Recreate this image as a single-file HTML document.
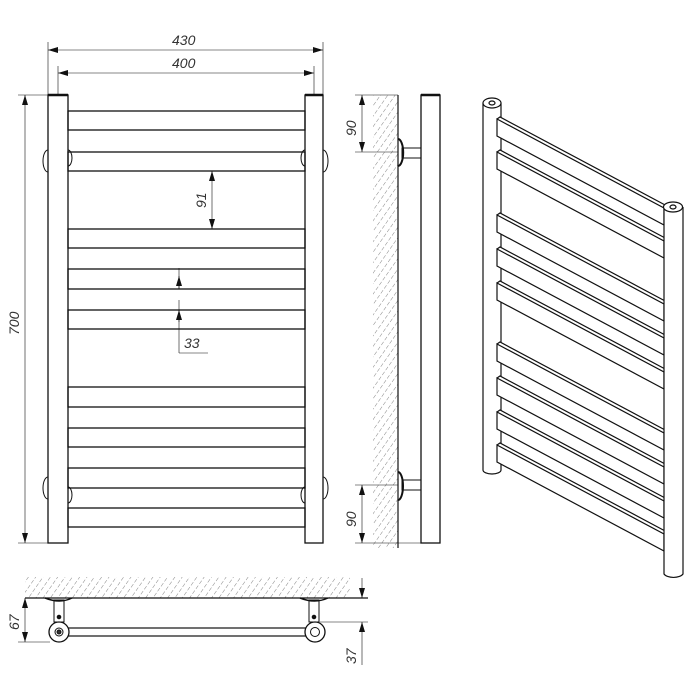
<!DOCTYPE html>
<html><head><meta charset="utf-8"><style>
html,body{margin:0;padding:0;background:#fff}
svg{display:block}
text{font-family:"Liberation Sans",sans-serif;font-style:italic;font-size:14px;fill:#333}
</style></head><body>
<svg width="700" height="700" viewBox="0 0 700 700" xmlns="http://www.w3.org/2000/svg">
<defs>
<pattern id="h" width="6" height="6" patternUnits="userSpaceOnUse" patternTransform="rotate(35)">
<line x1="0" y1="0" x2="0" y2="6" stroke="#777" stroke-width="0.9" stroke-dasharray="4 2"/>
</pattern>
<marker id="a" viewBox="0 0 10 6" refX="10" refY="3" markerWidth="10" markerHeight="6" orient="auto-start-reverse" markerUnits="userSpaceOnUse"><path d="M0,0 L10,3 L0,6z" fill="#111"/></marker>
</defs>
<g stroke="#111" fill="none" stroke-width="1">
<line x1="48" y1="42" x2="48" y2="95" stroke-width="0.6"/>
<line x1="323" y1="42" x2="323" y2="95" stroke-width="0.6"/>
<line x1="48" y1="50" x2="323" y2="50" stroke-width="0.6" marker-start="url(#a)" marker-end="url(#a)"/>
<line x1="58" y1="66" x2="58" y2="95" stroke-width="0.6"/>
<line x1="314" y1="66" x2="314" y2="95" stroke-width="0.6"/>
<line x1="58" y1="73" x2="314" y2="73" stroke-width="0.6" marker-start="url(#a)" marker-end="url(#a)"/>
<line x1="18" y1="95" x2="48" y2="95" stroke-width="0.6"/>
<line x1="18" y1="543" x2="48" y2="543" stroke-width="0.6"/>
<line x1="25" y1="95" x2="25" y2="543" stroke-width="0.6" marker-start="url(#a)" marker-end="url(#a)"/>
<rect x="48" y="95" width="20" height="448" stroke-width="1.3"/>
<rect x="305" y="95" width="18" height="448" stroke-width="1.3"/>
<line x1="48" y1="95" x2="68" y2="95" stroke-width="2.5"/>
<line x1="305" y1="95" x2="323" y2="95" stroke-width="2.5"/>
<path d="M48,150 A5,11 0 0 0 48,172"/><path d="M323,150 A5,11 0 0 1 323,172"/>
<path d="M48,477 A5,11 0 0 0 48,499"/><path d="M323,477 A5,11 0 0 1 323,499"/>
<path d="M68,150 A4,8 0 0 1 68,166"/><path d="M305,150 A4,8 0 0 0 305,166"/>
<path d="M68,487 A4,8 0 0 1 68,503"/><path d="M305,487 A4,8 0 0 0 305,503"/>
<g stroke-width="1.3">
<rect x="68" y="111" width="237" height="19"/>
<rect x="68" y="152" width="237" height="19"/>
<rect x="68" y="229" width="237" height="19"/>
<rect x="68" y="269" width="237" height="20"/>
<rect x="68" y="310" width="237" height="19"/>
<rect x="68" y="387" width="237" height="20"/>
<rect x="68" y="428" width="237" height="19"/>
<rect x="68" y="468" width="237" height="20"/>
<rect x="68" y="508" width="237" height="19"/>
</g>
<line x1="212" y1="171" x2="212" y2="229" stroke-width="0.6" marker-start="url(#a)" marker-end="url(#a)"/>
<line x1="179" y1="268" x2="179" y2="289" stroke-width="0.6"/>
<line x1="179" y1="276" x2="179" y2="289" stroke-width="0.6" marker-start="url(#a)"/>
<line x1="179" y1="300" x2="179" y2="353" stroke-width="0.6"/>
<line x1="179" y1="322" x2="179" y2="310" stroke-width="0.6" marker-end="url(#a)"/>
<line x1="179" y1="353" x2="208" y2="353" stroke-width="0.6"/>
<rect x="373" y="95" width="25" height="453" fill="url(#h)" stroke="none"/>
<line x1="398" y1="95" x2="398" y2="548" stroke-width="1.2"/>
<rect x="421" y="95" width="19" height="448" stroke-width="1.3"/>
<line x1="421" y1="95" x2="440" y2="95" stroke-width="2.5"/>
<path d="M398,139 A5,13 0 0 1 398,166" stroke-width="2"/>
<rect x="402" y="148" width="19" height="10"/>
<path d="M398,472 A5,14 0 0 1 398,500" stroke-width="2"/>
<rect x="402" y="480" width="19" height="10"/>
<line x1="355" y1="95" x2="398" y2="95" stroke-width="0.6"/>
<line x1="355" y1="152" x2="398" y2="152" stroke-width="0.6"/>
<line x1="362" y1="95" x2="362" y2="152" stroke-width="0.6" marker-start="url(#a)" marker-end="url(#a)"/>
<line x1="355" y1="485" x2="398" y2="485" stroke-width="0.6"/>
<line x1="355" y1="543" x2="421" y2="543" stroke-width="0.6"/>
<line x1="362" y1="485" x2="362" y2="543" stroke-width="0.6" marker-start="url(#a)" marker-end="url(#a)"/>
<rect x="25" y="577" width="325" height="21" fill="url(#h)" stroke="none"/>
<line x1="25" y1="598" x2="368" y2="598" stroke-width="1.2"/>
<path d="M45,598 Q60,604 72,598" stroke-width="1.5"/>
<path d="M300,598 Q315,604 328,598" stroke-width="1.5"/>
<rect x="54" y="600" width="10" height="22"/>
<rect x="309" y="600" width="10" height="22"/>
<circle cx="59" cy="617" r="1.8" fill="#111"/><circle cx="314" cy="617" r="1.8" fill="#111"/>
<rect x="68" y="628" width="238" height="8" stroke-width="1.2"/>
<circle cx="59" cy="632" r="10" fill="#fff" stroke-width="1.3"/>
<circle cx="59" cy="632" r="4"/><circle cx="59" cy="632" r="2" fill="#333"/>
<circle cx="315" cy="632" r="10" fill="#fff" stroke-width="1.3"/>
<circle cx="315" cy="632" r="4.5"/>
<line x1="18" y1="642" x2="50" y2="642" stroke-width="0.6"/>
<line x1="25" y1="598" x2="25" y2="642" stroke-width="0.6" marker-start="url(#a)" marker-end="url(#a)"/>
<line x1="320" y1="622" x2="368" y2="622" stroke-width="0.6"/>
<line x1="362" y1="578" x2="362" y2="598" stroke-width="0.6" marker-end="url(#a)"/>
<line x1="362" y1="665" x2="362" y2="622" stroke-width="0.6" marker-end="url(#a)"/>
<g stroke-width="1.2" fill="#fff">
<path d="M483,103 L483,470 A9,4 0 0 0 501,470 L501,103"/>
<ellipse cx="492" cy="103" rx="9" ry="5"/>
<ellipse cx="492" cy="103" rx="3" ry="2"/>
</g>
<g stroke-width="1.2" fill="#fff">
<path d="M497,119 L664,208 L664,225 L497,136Z M497,119 L500,117 L667,206"/>
<path d="M497,152 L664,241 L664,258 L497,169Z M497,152 L500,150 L667,239"/>
<path d="M497,215 L664,304 L664,321 L497,232Z M497,215 L500,213 L667,302"/>
<path d="M497,249 L664,338 L664,355 L497,266Z M497,249 L500,247 L667,336"/>
<path d="M497,283 L664,372 L664,389 L497,300Z M497,283 L500,281 L667,370"/>
<path d="M497,344 L664,433 L664,450 L497,361Z M497,344 L500,342 L667,431"/>
<path d="M497,378 L664,467 L664,484 L497,395Z M497,378 L500,376 L667,465"/>
<path d="M497,412 L664,501 L664,518 L497,429Z M497,412 L500,410 L667,499"/>
<path d="M497,445 L664,534 L664,551 L497,462Z M497,445 L500,443 L667,532"/>
</g>
<g stroke-width="1.2" fill="#fff">
<path d="M664,207 L664,574 A10,5 0 0 0 683,574 L683,207"/>
<ellipse cx="673" cy="207" rx="9.5" ry="5"/>
<ellipse cx="673" cy="207" rx="3" ry="2"/>
</g>
</g>
<text x="172" y="45">430</text>
<text x="172" y="68">400</text>
<text transform="translate(19,335) rotate(-90)">700</text>
<text transform="translate(206,208) rotate(-90)">91</text>
<text x="184" y="348">33</text>
<text transform="translate(356,136) rotate(-90)">90</text>
<text transform="translate(356,527) rotate(-90)">90</text>
<text transform="translate(19,630) rotate(-90)">67</text>
<text transform="translate(356,664) rotate(-90)">37</text>
</svg>
</body></html>
